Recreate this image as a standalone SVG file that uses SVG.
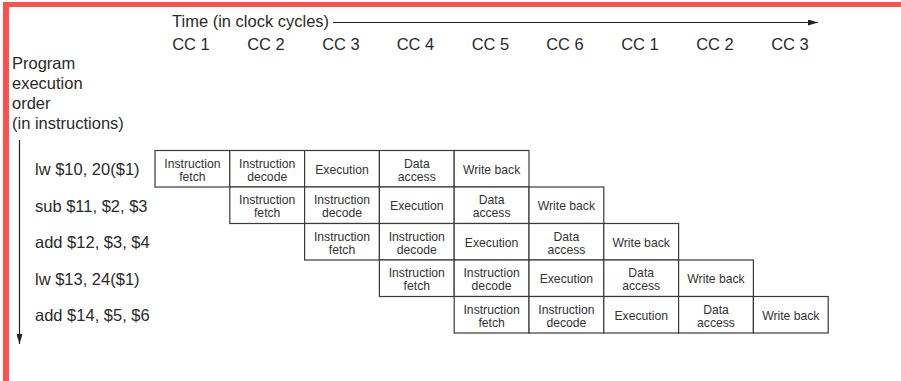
<svg xmlns="http://www.w3.org/2000/svg" width="901" height="381" viewBox="0 0 901 381">
  <style>
    .lbl { font-family: "Liberation Sans", Arial, sans-serif; font-size: 16.5px; fill: #2a2a2a; }
    .cc { font-family: "Liberation Sans", Arial, sans-serif; font-size: 16.5px; fill: #2a2a2a; text-anchor: middle; }
    .stage rect { fill: #ffffff; stroke: #3a3a3a; stroke-width: 1.2; }
    .stage text { font-family: "Liberation Sans", Arial, sans-serif; font-size: 12.2px; fill: #333333; text-anchor: middle; }
    .axis { stroke: #222222; stroke-width: 1.2; fill: none; }
  </style>
  <defs>
    <marker id="head" viewBox="0 0 10 6" refX="10" refY="3" markerWidth="10" markerHeight="6" markerUnits="userSpaceOnUse" orient="auto">
      <path d="M0,0 L10,3 L0,6 z" fill="#222222"/>
    </marker>
  </defs>

  <rect x="0" y="0" width="901" height="381" fill="#ffffff"/>

  <!-- frame -->
  <rect x="3" y="2" width="898" height="5" fill="#ff5050"/>
  <rect x="3" y="2" width="6" height="379" fill="#ff5050"/>

  <!-- axes -->
  <g id="connectors">
    <line class="axis" x1="333" y1="22.5" x2="818" y2="22.5" marker-end="url(#head)"/>
    <line class="axis" x1="19.5" y1="140" x2="19.5" y2="344" marker-end="url(#head)"/>
  </g>

  <text class="lbl" x="172" y="26.5">Time (in clock cycles)</text>

  <g id="cycles">
    <text class="cc" x="191" y="49.5">CC 1</text>
    <text class="cc" x="266" y="49.5">CC 2</text>
    <text class="cc" x="341" y="49.5">CC 3</text>
    <text class="cc" x="415.5" y="49.5">CC 4</text>
    <text class="cc" x="490.5" y="49.5">CC 5</text>
    <text class="cc" x="565" y="49.5">CC 6</text>
    <text class="cc" x="640" y="49.5">CC 1</text>
    <text class="cc" x="715" y="49.5">CC 2</text>
    <text class="cc" x="790" y="49.5">CC 3</text>
  </g>

  <g id="order-label">
    <text class="lbl" x="12" y="69">Program</text>
    <text class="lbl" x="12" y="89">execution</text>
    <text class="lbl" x="12" y="109">order</text>
    <text class="lbl" x="12" y="129">(in instructions)</text>
  </g>

  <g id="instructions">
    <text class="lbl" x="35" y="175">lw $10, 20($1)</text>
    <text class="lbl" x="35" y="211.5">sub $11, $2, $3</text>
    <text class="lbl" x="35" y="248">add $12, $3, $4</text>
    <text class="lbl" x="35" y="284.5">lw $13, 24($1)</text>
    <text class="lbl" x="35" y="321">add $14, $5, $6</text>
  </g>

  <!-- row 1 -->
  <g id="i1" class="stage">
    <rect x="155" y="150.5" width="74.8" height="36.5"/>
    <text x="192.4" y="167.5">Instruction</text><text x="192.4" y="180.5">fetch</text>
    <rect x="229.8" y="150.5" width="74.8" height="36.5"/>
    <text x="267.2" y="167.5">Instruction</text><text x="267.2" y="180.5">decode</text>
    <rect x="304.6" y="150.5" width="74.8" height="36.5"/>
    <text x="342" y="173.5">Execution</text>
    <rect x="379.4" y="150.5" width="74.8" height="36.5"/>
    <text x="416.8" y="167.5">Data</text><text x="416.8" y="180.5">access</text>
    <rect x="454.2" y="150.5" width="74.8" height="36.5"/>
    <text x="491.6" y="173.5">Write back</text>
  </g>

  <!-- row 2 -->
  <g id="i2" class="stage">
    <rect x="229.8" y="187" width="74.8" height="36.5"/>
    <text x="267.2" y="204">Instruction</text><text x="267.2" y="217">fetch</text>
    <rect x="304.6" y="187" width="74.8" height="36.5"/>
    <text x="342" y="204">Instruction</text><text x="342" y="217">decode</text>
    <rect x="379.4" y="187" width="74.8" height="36.5"/>
    <text x="416.8" y="210">Execution</text>
    <rect x="454.2" y="187" width="74.8" height="36.5"/>
    <text x="491.6" y="204">Data</text><text x="491.6" y="217">access</text>
    <rect x="529" y="187" width="74.8" height="36.5"/>
    <text x="566.4" y="210">Write back</text>
  </g>

  <!-- row 3 -->
  <g id="i3" class="stage">
    <rect x="304.6" y="223.5" width="74.8" height="36.5"/>
    <text x="342" y="240.5">Instruction</text><text x="342" y="253.5">fetch</text>
    <rect x="379.4" y="223.5" width="74.8" height="36.5"/>
    <text x="416.8" y="240.5">Instruction</text><text x="416.8" y="253.5">decode</text>
    <rect x="454.2" y="223.5" width="74.8" height="36.5"/>
    <text x="491.6" y="246.5">Execution</text>
    <rect x="529" y="223.5" width="74.8" height="36.5"/>
    <text x="566.4" y="240.5">Data</text><text x="566.4" y="253.5">access</text>
    <rect x="603.8" y="223.5" width="74.8" height="36.5"/>
    <text x="641.2" y="246.5">Write back</text>
  </g>

  <!-- row 4 -->
  <g id="i4" class="stage">
    <rect x="379.4" y="260" width="74.8" height="36.5"/>
    <text x="416.8" y="277">Instruction</text><text x="416.8" y="290">fetch</text>
    <rect x="454.2" y="260" width="74.8" height="36.5"/>
    <text x="491.6" y="277">Instruction</text><text x="491.6" y="290">decode</text>
    <rect x="529" y="260" width="74.8" height="36.5"/>
    <text x="566.4" y="283">Execution</text>
    <rect x="603.8" y="260" width="74.8" height="36.5"/>
    <text x="641.2" y="277">Data</text><text x="641.2" y="290">access</text>
    <rect x="678.6" y="260" width="74.8" height="36.5"/>
    <text x="716" y="283">Write back</text>
  </g>

  <!-- row 5 -->
  <g id="i5" class="stage">
    <rect x="454.2" y="296.5" width="74.8" height="36.5"/>
    <text x="491.6" y="313.5">Instruction</text><text x="491.6" y="326.5">fetch</text>
    <rect x="529" y="296.5" width="74.8" height="36.5"/>
    <text x="566.4" y="313.5">Instruction</text><text x="566.4" y="326.5">decode</text>
    <rect x="603.8" y="296.5" width="74.8" height="36.5"/>
    <text x="641.2" y="319.5">Execution</text>
    <rect x="678.6" y="296.5" width="74.8" height="36.5"/>
    <text x="716" y="313.5">Data</text><text x="716" y="326.5">access</text>
    <rect x="753.4" y="296.5" width="74.8" height="36.5"/>
    <text x="790.8" y="319.5">Write back</text>
  </g>
</svg>
